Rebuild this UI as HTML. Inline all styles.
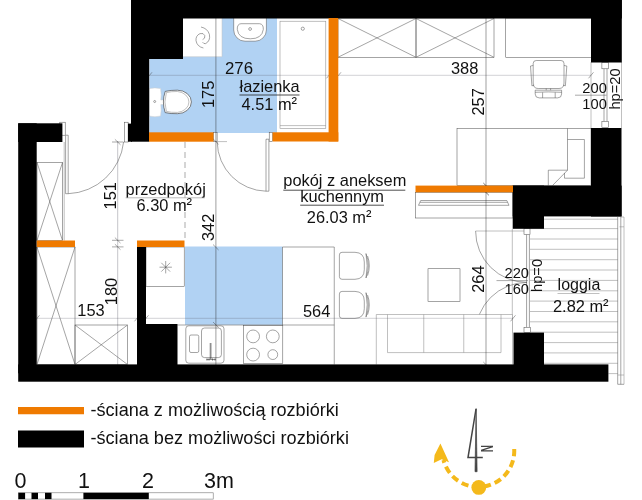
<!DOCTYPE html>
<html lang="pl">
<head>
<meta charset="utf-8">
<title>Plan mieszkania</title>
<style>
html,body{margin:0;padding:0;background:#fff;}
body{width:642px;height:500px;overflow:hidden;}
svg{display:block;will-change:transform;}
text{font-family:"Liberation Sans",sans-serif;fill:#111;}
.t16{font-size:16.4px;}
.d16{font-size:16.4px;}
.t14{font-size:14.7px;}
.t20{font-size:18.1px;}
.t22{font-size:21.5px;}
.ln{stroke:#4a4a4a;stroke-width:0.5;fill:none;}
.lnw{stroke:#4a4a4a;stroke-width:0.5;fill:#fff;}
.lt{stroke:#8c8c8c;stroke-width:0.55;fill:none;}
.dim{stroke:#2a2a3a;stroke-opacity:0.45;stroke-width:0.6;fill:none;}
.dimh{stroke:#556;stroke-opacity:0.45;stroke-width:0.6;fill:none;}
.tk{stroke:#333;stroke-opacity:0.7;stroke-width:0.6;fill:none;}
.dimv{stroke:#222;stroke-opacity:0.8;stroke-width:0.55;fill:none;}
.ul{stroke:#222;stroke-width:0.8;}
.blk{fill:#000;}
.org{fill:#ef7a00;}
.blu{fill:#b1d2f3;}
</style>
</head>
<body>
<svg width="642" height="500" viewBox="0 0 642 500">
<rect x="0" y="0" width="642" height="500" fill="#fff"/>

<!-- blue areas -->
<g id="blue">
<rect class="blu" x="149.5" y="59" width="180" height="74"/>
<rect class="blu" x="183" y="18" width="146.5" height="42"/>
<rect class="blu" x="185" y="246.5" width="97.4" height="78.3"/>
</g>

<!-- bathroom fixtures -->
<g id="bath">
<rect x="183" y="18" width="39" height="38.7" fill="#fff"/>
<path class="lt" d="M222,18 V56.7 H183" style="stroke:#c8c8c8"/>
<path class="ln" d="M202.6,39.6 Q205.4,38.6 204.8,35.6 Q203.6,32.6 200,33.6 Q195.6,35.6 196,40.6 Q197,46.6 203.4,48"/>
<path class="ln" d="M201,27 Q207.6,28.4 209.4,34.4 Q210.6,41 205.6,43.6 Q203.6,44 202.6,42.2"/>
<path class="lnw" d="M233.7,18 V30 A11.3,11.3 0 0 0 245,41.2 H255.2 A11.3,11.3 0 0 0 266.4,30 V18"/>
<path class="ln" d="M241,23.7 H259.5 Q263.6,24 263.3,29.5 Q262,38.8 250.3,38.8 Q238.5,38.8 237.3,29.5 Q237,24 241,23.7 Z"/>
<circle class="ln" cx="250.1" cy="29" r="1.4"/>
<rect x="277" y="18" width="52.5" height="115" fill="#fff"/>
<rect class="lt" x="280" y="21.2" width="45.8" height="107.1" style="stroke:#8a8a8a"/>
<path class="lt" d="M280,125.6 H325.8" style="stroke:#8a8a8a"/>
<circle class="ln" cx="302.8" cy="28.7" r="1.6"/>
<!-- toilet -->
<path d="M149.2,88.6 Q155,87.2 160.6,88.6 Q161.6,95 160.8,100 L166,100 V104.6 L160.8,104.6 Q161.6,110 160.6,116 Q155,117.6 149.2,116 Z" fill="#fff" stroke="#ccc" stroke-width="0.5"/>
<path class="lnw" d="M165.2,91.4 Q161.6,102 165.2,112.6 Q171,113.9 177.4,113.7 A14,11.75 0 0 0 177.4,90.2 Q171,90.1 165.2,91.4 Z" style="stroke-width:0.7"/>
<path class="lt" d="M166.4,92.6 Q163.4,102 166.4,111.4 Q171,112.6 177.4,112.4 A12.8,10.5 0 0 0 177.4,91.5 Q171,91.4 166.4,92.6 Z"/>
<circle class="ln" cx="154.7" cy="101.5" r="1"/>
</g>

<!-- furniture -->
<g id="furn">
<!-- hall wardrobes -->
<rect class="ln" x="37" y="162.5" width="25.5" height="78"/>
<path class="ln" d="M37,162.5 L62.5,240.5 M62.5,162.5 L37,240.5"/>
<rect class="ln" x="37" y="247" width="38" height="117.5"/>
<path class="ln" d="M37,247 L75,364.5 M75,247 L37,364.5"/>
<rect class="ln" x="75" y="325" width="52.5" height="39.5"/>
<path class="ln" d="M75,325 L127.5,364.5 M127.5,325 L75,364.5"/>
<!-- entrance door -->
<path class="ln" d="M65.6,135.2 h2.6 v58.5 h-2.6 z"/>
<path class="ln" d="M68.2,193.7 A58,58 0 0 0 123.6,142"/>
<path class="lt" d="M64.2,142 V240.5"/>
<rect class="lnw" x="59.8" y="122.2" width="5.4" height="13"/>
<rect class="lnw" x="124.5" y="122.2" width="3.6" height="19.8"/>
<!-- hall dashed -->
<path d="M185,142 V240" stroke-dasharray="6 4" stroke="#888" stroke-width="0.7" fill="none"/>
<!-- bathroom door -->
<path class="ln" d="M266,139.2 h2.9 v52 h-2.9 z"/>
<path class="ln" d="M266,191.2 A50,50 0 0 1 217.2,142"/>
<path class="lt" d="M216,141.6 H227"/>
<rect class="lnw" x="213.5" y="132.3" width="3.6" height="9.4"/>
<rect class="lnw" x="269.2" y="132.3" width="3.4" height="9.4"/>
<!-- room wardrobes top -->
<rect class="ln" x="338" y="18" width="78" height="39.3"/>
<rect class="ln" x="416" y="18" width="78" height="39.3"/>
<path class="ln" d="M338,18.5 L416,57.3 M416,18.5 L338,57.3 M416,18.5 L494,57.3 M494,18.5 L416,57.3"/>
<!-- desk -->
<rect class="ln" x="505.75" y="18" width="85.5" height="39.3"/>
<!-- chair -->
<path class="lnw" d="M536.2,60.5 H561 Q564,60.5 564,63.5 V83 Q564,88.5 559,88.5 H538.2 Q533.2,88.5 533.2,83 V63.5 Q533.2,60.5 536.2,60.5 Z"/>
<path class="ln" d="M533.2,65.5 L530.5,66 L531.9,85.8 L534.2,85.2 M564,65.5 L566.8,66 L565.4,85.8 L563,85.2"/>
<path class="ln" d="M546.2,88.5 V90.2 M550.6,88.5 V90.2"/>
<path class="ln" d="M535.2,90.2 H561.6 V94 Q561.6,97.9 557.6,97.9 H539.2 Q535.2,97.9 535.2,94 Z M535.2,92.3 Q548.4,91.5 561.6,92.3 M542.6,92.4 V97.9 M555.2,92.4 V97.9"/>
<!-- bed -->
<rect class="ln" x="457" y="128.5" width="134" height="57"/>
<path class="ln" d="M567.5,128.5 V170.2 L552.5,185.5 M548.3,185.5 V170.2 H567.5"/>
<path class="ln" d="M567.5,139.5 H584.4 V178.2 H564.5 V173"/>
<!-- tv shelf -->
<rect class="ln" x="415.5" y="192.5" width="97.5" height="25.5"/>
<path class="ln" d="M420.7,200.5 H506.8 L509,205.3 H418.5 Z M420,202.3 H507.6"/>
<!-- coffee table -->
<rect class="ln" x="428" y="268.75" width="32" height="32.5"/>
<!-- sofa -->
<!-- bar chairs -->
<g id="chair1">
<path class="lnw" d="M342,252.3 H355 Q364.3,252.6 364.3,262 V269.6 Q364.3,279 355,279.3 H342 Q339.4,279.3 339.4,276.7 V254.9 Q339.4,252.3 342,252.3 Z"/>
<path class="ln" d="M366,253.6 Q370.6,265.8 366,278 Q368.4,265.8 366,253.6 Z M367.6,256 Q371,265.8 367.6,275.6"/>
</g>
<g id="chair2" transform="translate(0,39.1)">
<path class="lnw" d="M342,252.3 H355 Q364.3,252.6 364.3,262 V269.6 Q364.3,279 355,279.3 H342 Q339.4,279.3 339.4,276.7 V254.9 Q339.4,252.3 342,252.3 Z"/>
<path class="ln" d="M366,253.6 Q370.6,265.8 366,278 Q368.4,265.8 366,253.6 Z M367.6,256 Q371,265.8 367.6,275.6"/>
</g>
<!-- kitchen -->
<path class="ln" d="M334.25,247 V364.5 M177.5,325 H334.25 M282.5,247 V325 M282.5,247 H334.25"/>
<rect class="ln" x="146" y="247" width="38.2" height="39.6"/>
<path class="ln" d="M159.5,267.2 h12.4 M165.7,261 v12.4 M161.3,262.8 l8.8,8.8 M170.1,262.8 l-8.8,8.8"/>
<rect class="lnw" x="185.8" y="325.8" width="38.2" height="37.4" rx="3"/>
<rect class="ln" x="189.5" y="335" width="9.25" height="17.5" rx="1.5"/>
<rect class="ln" x="201.5" y="328" width="19.9" height="29.6" rx="3"/>
<path class="ln" d="M210.2,343 V359 M211,343 V359 M206.4,359.5 h9.3 M207,358.3 v2.4 M209,358.3 v2.4 M212.6,358.3 v2.4 M215,358.3 v2.4" style="stroke:#222"/>
<rect class="ln" x="243.6" y="325.3" width="39.2" height="38.4"/>
<circle class="ln" cx="253.1" cy="336.4" r="6.4"/>
<circle class="ln" cx="272.8" cy="336.4" r="6.4"/>
<circle class="ln" cx="253.1" cy="354.6" r="6.4"/>
<circle class="ln" cx="272.8" cy="354.6" r="4.9"/>
</g>

<!-- loggia -->
<g id="loggia">
<path class="lt" d="M544,219.2 H617.7 M530,228.6 H617.7 M530,239.0 H617.7 M530,249.3 H617.7 M530,259.7 H617.7 M530,270.0 H617.7 M530,280.4 H617.7 M530,290.8 H617.7 M530,301.1 H617.7 M530,311.5 H617.7 M530,321.8 H617.7 M530,332.2 H617.7 M544,342.6 H617.7 M544,352.9 H617.7 M544,363.3 H617.7 M608.4,373.6 H617.7"/>
<path class="ln" d="M617.7,217 V384.3 M620.8,217 V384.3 M617.7,384.3 H624"/>
<path class="lt" d="M624,217 V384.3 M620.8,217 H624 M619.5,226.8 H624 M617.7,375 H624"/>
<path class="lt" d="M512.3,229 V333 M475.6,231 H524"/>
<path class="ln" d="M475.6,231 A51.4,51.4 0 0 0 527,282.4 A51.4,51.4 0 0 0 475.6,333.8"/>
<path class="ln" d="M526.6,234.4 V327.5 M529.4,234.4 V327.5" style="stroke:#444"/>
<rect class="lnw" x="524" y="228.5" width="6" height="6"/>
<rect class="lnw" x="524" y="327.3" width="6.3" height="5.4"/>
</g>

<!-- sofa -->
<g id="sofa">
<path d="M376.3,364.5 V314.5 H512.5 V364.5 Z" fill="#fff" stroke="none"/>
<path class="lt" d="M376.3,364.5 V314.5 H512.5 V364.5" style="stroke:#8c8c8c"/>
<path class="lt" d="M387.5,314.5 V352.6 H501 V314.5 M423.75,314.5 V352.6 M463.75,314.5 V352.6" style="stroke:#8c8c8c"/>
</g>

<!-- window right -->
<g id="win">
<path class="lt" d="M591,62 V128 M621.5,62 V128"/>
<path class="ln" d="M604,68 V122 M607,68 V122"/>
<rect class="lnw" x="601.9" y="62.5" width="6.4" height="6.3"/>
<rect class="lnw" x="601.9" y="121.3" width="6.4" height="6.3"/>
</g>

<!-- dimension lines -->
<g id="dims">
<path class="dimh" d="M149.5,75.3 H329.5 M338,75.3 H591"/>
<path class="dimv" d="M215.9,18 V365"/>
<path class="dimv" d="M486,18 V365"/>
<path class="dim" d="M117.7,141 V365"/>
<path class="dimh" d="M37,318.3 H137 M146,318.3 H513"/>
<!-- ticks -->
<path class="tk" d="M147,78.3 l5,-6 M326.5,78.3 l5,-6 M336,78.3 l5,-6 M588.5,78.3 l5,-6"/>
<path class="tk" d="M213,138.8 l5.6,5.5 M213,244.5 l5.6,5.5 M213,322 l5.6,5.5 M483.3,362 l5.6,5.5"/>
<path class="tk" d="M483.3,183 l5.6,5.5 M483.3,189.8 l5.6,5.5" style="stroke:#000;stroke-opacity:0.9"/>
<path class="tk" d="M114.9,139.3 l5.6,5.5 M114.9,237.6 l5.6,5.5 M114.9,244.2 l5.6,5.5 M112,142 h11.5 M112,240.3 h11.5 M112,246.9 h11.5"/>
<path class="tk" d="M134.5,321.3 l5,-6 M143.5,321.3 l5,-6 M510.5,321.3 l5,-6 M34.5,321.3 l5,-6"/>
<path class="tk" d="M575,95.2 H606.5 M496.5,280.6 H528"/>
</g>

<!-- walls black -->
<g id="walls" class="blk">
<rect x="131" y="0" width="490.8" height="18.5"/>
<rect x="131" y="0" width="52" height="59"/>
<rect x="131" y="0" width="18.2" height="141.7"/>
<rect x="128" y="123.6" width="4" height="18.1"/>
<rect x="591" y="0" width="30.8" height="62.5"/>
<rect x="591" y="128" width="30.5" height="88.5"/>
<rect x="512.7" y="185.6" width="108.9" height="30.8"/>
<rect x="512.7" y="185.6" width="31.3" height="43.2"/>
<rect x="513.5" y="332.6" width="30.5" height="40"/>
<rect x="18.2" y="364.4" width="590.2" height="17.3"/>
<rect x="18.2" y="123.3" width="18.5" height="250"/>
<rect x="18.2" y="123.3" width="44.2" height="18.7"/>
<rect x="137" y="247" width="9" height="120"/>
<rect x="137" y="324" width="40.5" height="45"/>
</g>

<!-- walls orange -->
<g id="owalls" class="org">
<rect x="149" y="132.3" width="64.5" height="9.4"/>
<rect x="272.6" y="132.3" width="65.7" height="9.2"/>
<rect x="328.6" y="18" width="9.7" height="123.5"/>
<rect x="415.5" y="185.6" width="97.5" height="6.7"/>
<rect x="36.75" y="240.5" width="38.25" height="6.5"/>
<rect x="137" y="240.5" width="47.5" height="6.5"/>
</g>

<!-- room labels -->
<g id="labels">
<text class="t16" x="239.5" y="91.5">łazienka</text>
<path class="ul" d="M239.5,95 H299.5"/>
<text class="t16" x="241.5" y="110">4.51 m<tspan dy="-1.6">²</tspan></text>

<text class="t16" x="125.6" y="194.6">przedpokój</text>
<path class="ul" d="M125.6,197.8 H204.8" style="stroke:#aaa"/>
<text class="t16" x="136.5" y="210.8">6.30 m<tspan dy="-1.6">²</tspan></text>

<text class="t16" x="283.3" y="186">pokój z aneksem</text>
<path class="ul" d="M283.3,190.2 H405.3"/>
<text class="t16" x="300.2" y="201.7">kuchennym</text>
<path class="ul" d="M300.2,205.2 H384"/>
<text class="t16" x="306.8" y="223">26.03 m<tspan dy="-1.6">²</tspan></text>

<text class="t16" x="557.6" y="290.3" style="font-size:16px">loggia</text>
<path class="lt" d="M557.5,293.5 H599.5"/>
<text class="t16" x="553" y="311.5">2.82 m<tspan dy="-1.6">²</tspan></text>
</g>

<!-- dimension labels -->
<g id="dimlabels">
<text class="d16" x="225" y="73.6" style="font-size:16.8px">276</text>
<text class="d16" x="451" y="73.5">388</text>
<text class="d16" x="77.3" y="316.2">153</text>
<text class="d16" x="303" y="316.5">564</text>
<text class="d16" transform="translate(213.6,108) rotate(-90)">175</text>
<text class="d16" transform="translate(484,115.5) rotate(-90)">257</text>
<text class="d16" transform="translate(116.4,209.4) rotate(-90)">151</text>
<text class="d16" transform="translate(213.75,241) rotate(-90)">342</text>
<text class="d16" transform="translate(116.8,305.2) rotate(-90)">180</text>
<text class="d16" transform="translate(483.8,292.8) rotate(-90)">264</text>
<text class="t14" x="582.3" y="93.2">200</text>
<text class="t14" x="582.3" y="109.3">100</text>
<text class="t14" x="504.5" y="278.3">220</text>
<text class="t14" x="504.5" y="294">160</text>
<text class="t14" transform="translate(619.6,109.6) rotate(-90)">hp=20</text>
<text class="t14" transform="translate(541.5,292) rotate(-90)">hp=0</text>
</g>

<!-- legend -->
<g id="legend">
<rect class="org" x="18" y="407" width="66" height="7.25"/>
<rect class="blk" x="18" y="430.5" width="66" height="17"/>
<text class="t20" x="90.5" y="415.9">-ściana z możliwością rozbiórki</text>
<text class="t20" x="90.5" y="444">-ściana bez możliwości rozbiórki</text>
</g>

<!-- scale -->
<g id="scale">
<text class="t22" x="14.5" y="487.8">0</text>
<text class="t22" x="78" y="487.8">1</text>
<text class="t22" x="142" y="487.8">2</text>
<text class="t22" x="204" y="487.8">3m</text>
<rect x="18.4" y="492.8" width="194.8" height="6.3" fill="#fff" stroke="#777" stroke-width="0.6"/>
<rect class="blk" x="18.4" y="492.8" width="6.7" height="6.3"/>
<rect class="blk" x="31.5" y="492.8" width="6.5" height="6.3"/>
<rect class="blk" x="45" y="492.8" width="6.5" height="6.3"/>
<rect class="blk" x="83.4" y="492.8" width="65.4" height="6.3"/>
</g>

<!-- north arrow -->
<g id="north">
<path d="M514.2,449 A36,36 0 0 1 478.6,487 A36,36 0 0 1 443.5,460" fill="none" stroke="#f4b91b" stroke-width="4" stroke-dasharray="7.2 4.2"/>
<circle cx="478.8" cy="487.4" r="7.4" fill="#f4b91b"/>
<path d="M440.4,443.6 L449,462.3 L441.6,459.3 L433.8,463 L434.6,455 Z" fill="#f4b91b"/>
<path d="M476.1,408.5 L477.1,471.7 H475 Z" fill="#444" stroke="#444" stroke-width="0.7"/>
<path d="M476,409 L468,457.6 H482.8" fill="none" stroke="#444" stroke-width="1.5"/>
<text transform="translate(481,445) rotate(90) scale(0.62,1)" style="font-size:16px;font-weight:bold;fill:#444">N</text>
</g>
</svg>
</body>
</html>
